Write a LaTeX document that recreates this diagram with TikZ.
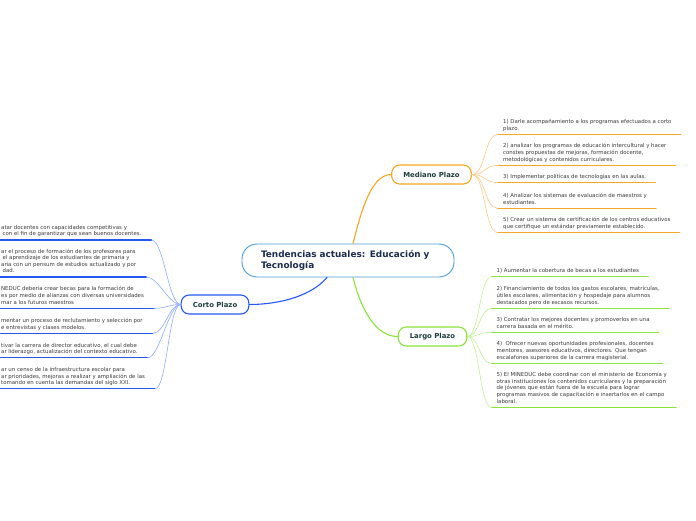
\documentclass[tikz,border=0pt]{standalone}
\usepackage{fontspec}
\setmainfont{DejaVu Sans}
\usepackage{xcolor}
\definecolor{ctrline}{HTML}{4B9CD8}
\definecolor{ctrtext}{HTML}{1A2B4C}
\definecolor{brtext}{HTML}{1D3D3A}
\definecolor{itemtext}{HTML}{3A3A3A}
\definecolor{midline}{HTML}{F5A623}
\definecolor{midlight}{HTML}{F9C98A}
\definecolor{longline}{HTML}{8AE23A}
\definecolor{longlight}{HTML}{C2F096}
\definecolor{shortline}{HTML}{2557F2}
\definecolor{shortlight}{HTML}{8FAAF8}

\begin{document}
\begin{tikzpicture}[
    x=1pt, y=-1pt,
    line cap=round,
    line join=round,
    topic/.style={draw=ctrline, line width=0.9pt, rounded corners=15pt, fill=white,
        text width=174pt, inner xsep=19pt, align=left, minimum height=33pt,
        font=\fontsize{8.9}{11}\selectfont\bfseries, text=ctrtext},
    branch/.style={rounded corners=8pt, line width=1.1pt, fill=white, inner xsep=11.6pt,
        minimum height=19pt, font=\fontsize{6.9}{8}\selectfont\bfseries, text=brtext},
    item/.style={align=left, inner xsep=5pt, inner ysep=2.6pt, text depth=1.4pt,
        font=\fontsize{5.4}{6.6}\selectfont, text=itemtext},
    uline/.style={line width=1.3pt},
    twig/.style={line width=0.6pt}
]
\useasboundingbox (0,0) rectangle (696,520);
\clip (0,0) rectangle (696,520);

% Central topic and branches
\node[topic] (ctr) at (348, 260.5) {Tendencias actuales: Educación y\\Tecnología};
\node[branch, draw=midline] (mid) at (431.5, 174.5) {Mediano Plazo};
\node[branch, draw=longline] (long) at (432.5, 336.5) {Largo Plazo};
\node[branch, draw=shortline] (short) at (215, 304.5) {Corto Plazo};

\draw[midline, line width=1.1pt] ([xshift=5pt]ctr.north) .. controls +(8,-32) and +(-20,0) .. (mid.west);
\draw[longline, line width=1.1pt] ([xshift=5pt]ctr.south) .. controls +(8,32) and +(-22,0) .. (long.west);
\draw[shortline, line width=1.1pt] ([xshift=-21pt]ctr.south) .. controls +(-15,18) and +(31,0) .. (short.east);

% Mediano Plazo items
\node[item, anchor=south west] (m1) at (498, 134.5) {1) Darle acompañamiento a los programas efectuados a corto\\plazo.};
\node[item, anchor=south west] (m2) at (498, 165.3) {2) analizar los programas de educación intercultural y hacer\\constes propuestas de mejoras, formación docente,\\metodológicas y contenidos curriculares.};
\node[item, anchor=south west] (m3) at (498, 182.7) {3) Implementar políticas de tecnologías en las aulas.};
\node[item, anchor=south west] (m4) at (498, 208.3) {4) Analizar los sistemas de evaluación de maestros y\\estudiantes.};
\node[item, anchor=south west] (m5) at (498, 232.7) {5) Crear un sistema de certificación de los centros educativos\\que certifique un estándar previamente establecido.};
\foreach \n in {m1,m2,m3,m4,m5} {
    \draw[midline, uline] (\n.south west) -- ([xshift=4pt]\n.south east);
    \draw[midlight, twig] (mid.east) .. controls +(14,0) and +(-14,0) .. (\n.south west);
}

% Largo Plazo items
\node[item, anchor=south west] (l1) at (491.5, 276.7) {1) Aumentar la cobertura de becas a los estudiantes};
\node[item, anchor=south west] (l2) at (491.5, 308.3) {2) Financiamiento de todos los gastos escolares, matrículas,\\útiles escolares, alimentación y hospedaje para alumnos\\destacados pero de escasos recursos.};
\node[item, anchor=south west] (l3) at (491.5, 332.3) {3) Contratar los mejores docentes y promoverlos en una\\carrera basada en el mérito.};
\node[item, anchor=south west] (l4) at (491.5, 363.3) {4)\ \ Ofrecer nuevas oportunidades profesionales, docentes\\mentores, asesores educativos, directores. Que tengan\\escalafones superiores de la carrera magisterial.};
\node[item, anchor=south west] (l5) at (491.5, 407.3) {5) El MINEDUC debe coordinar con el ministerio de Economía y\\otras instituciones los contenidos curriculares y la preparación\\de jóvenes que están fuera de la escuela para lograr\\programas masivos de capacitación e insertarlos en el campo\\laboral.};
\foreach \n in {l1,l2,l3,l4,l5} {
    \draw[longline, uline] (\n.south west) -- ([xshift=4pt]\n.south east);
    \draw[longlight, twig] (long.east) .. controls +(12,0) and +(-12,0) .. (\n.south west);
}

% Corto Plazo items
\node[item, anchor=south west] (s1) at (-4, 240) {atar docentes con capacidades competitivas y\\\hspace*{1.5pt}con el fin de garantizar que sean buenos docentes.};
\node[item, anchor=south west] (s2) at (-4, 277) {ar el proceso de formación de los profesores para\\\hspace*{1.5pt}el aprendizaje de los estudiantes de primaria y\\aria con un pensum de estudios actualizado y por\\\hspace*{1.5pt}dad.};
\node[item, anchor=south west] (s3) at (-4, 308.3) {NEDUC debería crear becas para la formación de\\es por medio de alianzas con diversas universidades\\mar a los futuros maestros};
\node[item, anchor=south west] (s4) at (-4, 333.3) {mentar un proceso de reclutamiento y selección por\\e entrevistas y clases modelos.};
\node[item, anchor=south west] (s5) at (-4, 357.8) {tivar la carrera de director educativo, el cual debe\\ar liderazgo, actualización del contexto educativo.};
\node[item, anchor=south west] (s6) at (-4, 388.8) {ar un censo de la infraestructura escolar para\\ar prioridades, mejoras a realizar y ampliación de las\\tomando en cuenta las demandas del siglo XXI.};
\foreach \n in {s1,s2,s3,s4,s5,s6} {
    \draw[shortline, uline] (\n.south west) -- ([xshift=5pt]\n.south east) coordinate (\n end);
    \draw[shortlight, twig] (short.west) .. controls +(-12,0) and +(12,0) .. (\n end);
}
\end{tikzpicture}
\end{document}
